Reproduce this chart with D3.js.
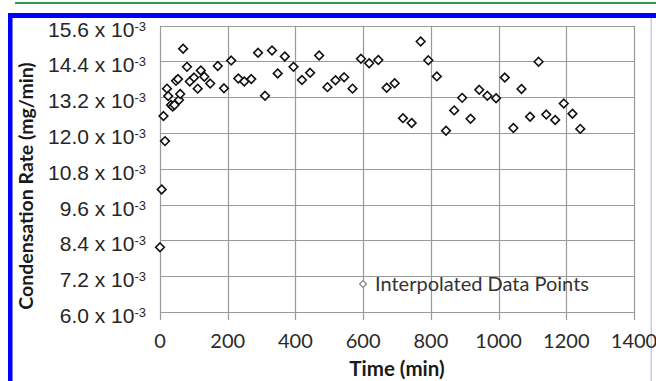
<!DOCTYPE html>
<html>
<head>
<meta charset="utf-8">
<script src="https://cdn.jsdelivr.net/npm/d3@7"></script>
<style>
  html, body { margin: 0; padding: 0; background: #fff; }
  svg { display: block; }
</style>
</head>
<body>
<svg id="chart"></svg>
<script>
// Condensation rate readings (time in min, rate in 10^-3 mg/min)
const times = [
  0, 5.0, 14.8, 10.3, 20.7, 24.2, 32.5, 37.5, 42.8, 47.3,
  53.2, 56.1, 59.7, 68.3, 79.7, 88.0, 100.4, 120.5, 130.9, 111.3,
  148.3, 170.6, 189.0, 210.3, 231.3, 248.9, 269.6, 289.6, 310.2, 330.8,
  347.6, 368.6, 394.3, 419.2, 443.4, 470.0, 494.6, 518.3, 543.9, 568.6,
  593.6, 617.8, 644.7, 669.5, 693.1, 717.6, 743.3, 769.9, 792.5, 817.6,
  844.7, 868.9, 892.5, 917.3, 943.0, 966.9, 992.6, 1018.3, 1043.7, 1067.7,
  1093.0, 1118.2, 1140.9, 1167.2, 1192.6, 1218.3, 1241.3
];
const rates = [
  8.17, 10.11, 11.73, 12.57, 13.49, 13.24, 12.94, 12.89, 12.94, 13.75,
  13.81, 13.11, 13.31, 14.83, 14.22, 13.73, 13.86, 14.10, 13.89, 13.49,
  13.66, 14.25, 13.50, 14.43, 13.83, 13.73, 13.81, 14.69, 13.25, 14.77,
  14.00, 14.57, 14.22, 13.78, 14.02, 14.60, 13.54, 13.77, 13.87, 13.49,
  14.49, 14.34, 14.45, 13.52, 13.67, 12.50, 12.34, 15.07, 14.44, 13.90,
  12.08, 12.76, 13.18, 12.48, 13.45, 13.25, 13.17, 13.86, 12.17, 13.48,
  12.55, 14.39, 12.62, 12.44, 12.99, 12.65, 12.14
];
const xTicks = [0, 200, 400, 600, 800, 1000, 1200, 1400];
const yTicks = ['6.0', '7.2', '8.4', '9.6', '10.8', '12.0', '13.2', '14.4', '15.6'];

const W = 656, H = 381;
const svg = d3.select('#chart').attr('width', W).attr('height', H);

// page frame bits
svg.append('rect').attr('x', 15).attr('y', 2).attr('width', W - 15).attr('height', 2).attr('fill', '#2f9a4a');
svg.append('rect').attr('x', 8).attr('y', 13).attr('width', W - 8).attr('height', 5).attr('fill', '#0000ff');
svg.append('rect').attr('x', 8).attr('y', 13).attr('width', 4.5).attr('height', H - 13).attr('fill', '#0000ff');
svg.append('rect').attr('x', 650.5).attr('y', 18).attr('width', 1.5).attr('height', H - 18).attr('fill', '#c9c9f2');

const x = d3.scaleLinear().domain([0, 1400]).range([160, 634]);
const y = d3.scaleLinear().domain([6, 15.6]).range([312, 25.7]);

const grid = '#9a9a9a';

// horizontal gridlines
svg.append('g')
  .selectAll('line')
  .data(yTicks)
  .join('line')
  .attr('x1', x(0)).attr('x2', x(1400))
  .attr('y1', d => Math.round(y(+d)) + 0.5)
  .attr('y2', d => Math.round(y(+d)) + 0.5)
  .attr('stroke', grid).attr('stroke-width', 1.2);

// vertical gridlines, running past the bottom as tick marks
svg.append('g')
  .selectAll('line')
  .data(xTicks)
  .join('line')
  .attr('x1', d => Math.round(x(d)) + 0.5)
  .attr('x2', d => Math.round(x(d)) + 0.5)
  .attr('y1', y(15.6)).attr('y2', y(6) + 8)
  .attr('stroke', grid).attr('stroke-width', 1.2);

// y tick labels with superscript exponent
const yl = svg.append('g')
  .selectAll('text')
  .data(yTicks)
  .join('text')
  .attr('x', 146)
  .attr('y', d => y(+d) + 11)
  .attr('text-anchor', 'end')
  .attr('font-family', 'Liberation Sans, Arial, sans-serif')
  .attr('font-size', 21)
  .attr('fill', '#262626');
yl.append('tspan').text(d => d + ' x 10');
yl.append('tspan')
  .attr('font-size', 13)
  .attr('dy', -6)
  .text('-3');

// x tick labels
svg.append('g')
  .selectAll('text')
  .data(xTicks)
  .join('text')
  .attr('x', d => x(d))
  .attr('y', 347.5)
  .attr('text-anchor', 'middle')
  .attr('font-family', 'Lato, sans-serif')
  .attr('font-size', 20)
  .attr('fill', '#2a2a2a')
  .text(d => d);

// axis titles
svg.append('text')
  .attr('x', 397).attr('y', 375.5)
  .attr('text-anchor', 'middle')
  .attr('font-family', 'Lato, sans-serif')
  .attr('font-weight', 'bold')
  .attr('font-size', 20.5)
  .attr('fill', '#1a1a1a')
  .text('Time (min)');

svg.append('text')
  .attr('transform', 'translate(33,186) rotate(-90)')
  .attr('text-anchor', 'middle')
  .attr('font-family', 'Lato, sans-serif')
  .attr('font-weight', 'bold')
  .attr('font-size', 19.5)
  .attr('fill', '#1a1a1a')
  .text('Condensation Rate (mg/min)');

// data points
const diamond = d3.symbol().type(d3.symbolDiamond2).size(48);
svg.append('g')
  .selectAll('path')
  .data(times.map((t, i) => [t, rates[i]]))
  .join('path')
  .attr('d', diamond)
  .attr('transform', d => `translate(${x(d[0])},${y(d[1])})`)
  .attr('fill', '#fff')
  .attr('stroke', '#111')
  .attr('stroke-width', 1.6);

// legend
svg.append('path')
  .attr('d', d3.symbol().type(d3.symbolDiamond2).size(30))
  .attr('transform', 'translate(363,284)')
  .attr('fill', '#fff')
  .attr('stroke', '#8a8a8a')
  .attr('stroke-width', 1.3);
svg.append('text')
  .attr('x', 375).attr('y', 291)
  .attr('font-family', 'Lato, sans-serif')
  .attr('font-size', 20)
  .attr('fill', '#333')
  .text('Interpolated Data Points');
</script>
</body>
</html>
